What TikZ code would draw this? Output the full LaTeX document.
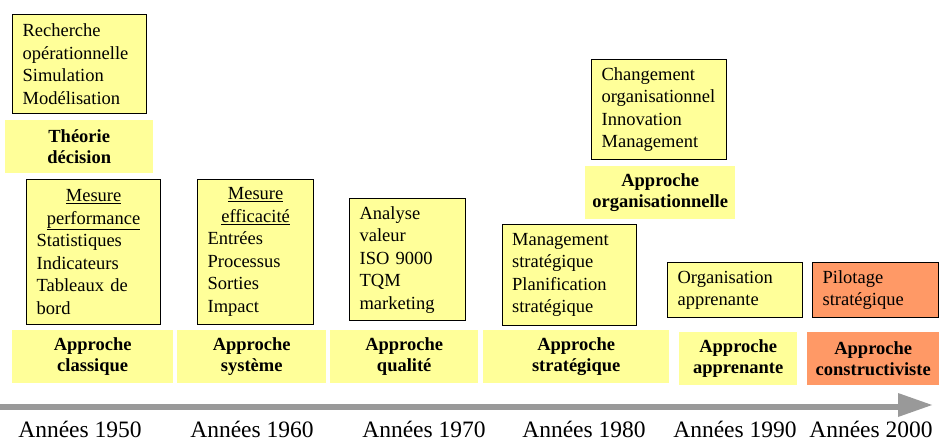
\documentclass[tikz,border=0pt]{standalone}
\usepackage{fontspec}
\setmainfont{Liberation Serif}[BoldFont={Liberation Serif Bold}]
\definecolor{boxyellow}{HTML}{FFFF99}
\definecolor{boxorange}{HTML}{FF9966}
\definecolor{arrowgray}{HTML}{999999}
\tikzset{
  txtbox/.style={draw=black, line width=1.2pt, fill=boxyellow, anchor=north west,
    inner xsep=10pt, inner ysep=0pt, align=left,
    font=\fontsize{18.5}{22.5}\selectfont},
  apbox/.style={fill=boxyellow, anchor=north west, inner sep=0pt, align=center,
    font=\fontsize{18.5}{21.5}\selectfont\bfseries},
  yearlbl/.style={anchor=base, inner sep=0pt, font=\fontsize{23.5}{26}\selectfont}
}
\newcommand{\ctrline}[1]{\makebox[\linewidth][c]{\underline{#1}}}
\begin{document}
\begin{tikzpicture}[x=1pt,y=-1pt]
\useasboundingbox (0,0) rectangle (939,441);

% top-left
\node[txtbox, minimum width=134pt, minimum height=99pt, text width=114pt] (rech) at (12,14)
  {Recherche\\op\'erationnelle\\Simulation\\Mod\'elisation};
\node[apbox, minimum width=148pt, minimum height=53pt] (theo) at (5,120)
  {Th\'eorie\\d\'ecision};

% 1950
\node[txtbox, minimum width=134pt, minimum height=145pt, text width=114pt] (mesp) at (26,179)
  {\ctrline{Mesure}\\\ctrline{performance}\\Statistiques\\Indicateurs\\Tableaux de\\bord};
\node[apbox, minimum width=161pt, minimum height=53pt] (clas) at (12,330)
  {Approche\\classique};

% 1960
\node[txtbox, minimum width=116pt, minimum height=145pt, text width=96pt] (mese) at (197,179)
  {\ctrline{Mesure}\\\ctrline{efficacit\'e}\\Entr\'ees\\Processus\\Sorties\\Impact};
\node[apbox, minimum width=149pt, minimum height=53pt] (syst) at (177,330)
  {Approche\\syst\`eme};

% 1970
\node[txtbox, minimum width=116pt, minimum height=122pt, text width=96pt] (anal) at (349,198)
  {Analyse\\valeur\\ISO 9000\\TQM\\marketing};
\node[apbox, minimum width=148pt, minimum height=53pt] (qual) at (330,330)
  {Approche\\qualit\'e};

% 1980
\node[txtbox, minimum width=134pt, minimum height=101pt, text width=115pt, inner xsep=9.5pt] (mgmt) at (502,224)
  {Management\\strat\'egique\\Planification\\strat\'egique};
\node[apbox, minimum width=186pt, minimum height=53pt] (strat) at (483,330)
  {Approche\\strat\'egique};

% organisationnelle
\node[txtbox, minimum width=135pt, minimum height=100pt, text width=115pt] (chg) at (591,59)
  {Changement\\organisationnel\\Innovation\\Management};
\node[apbox, minimum width=150pt, minimum height=53pt] (orga) at (585,166)
  {Approche\\organisationnelle};

% 1990
\node[txtbox, minimum width=135pt, minimum height=55pt, text width=115pt] (orgapp) at (667,262)
  {Organisation\\apprenante};
\node[apbox, minimum width=118pt, minimum height=53pt] (appr) at (679,332)
  {Approche\\apprenante};

% 2000
\node[txtbox, fill=boxorange, minimum width=126pt, minimum height=55pt, text width=106pt] (pilot) at (812,262)
  {Pilotage\\strat\'egique};
\node[apbox, fill=boxorange, minimum width=132pt, minimum height=53pt] (cons) at (807,332)
  {Approche\\constructiviste};

% timeline arrow
\coordinate (tstart) at (0,407);
\coordinate (tend) at (900,407);
\coordinate (ttip) at (932,405);
\draw[arrowgray, line width=6pt] (tstart) -- (tend);
\fill[arrowgray] (898,393) -- (ttip) -- (898,417) -- cycle;

% year labels
\node[yearlbl] (y50) at (80,437) {Ann\'ees 1950};
\node[yearlbl] (y60) at (252,437) {Ann\'ees 1960};
\node[yearlbl] (y70) at (424,437) {Ann\'ees 1970};
\node[yearlbl] (y80) at (584,437) {Ann\'ees 1980};
\node[yearlbl] (y90) at (735,437) {Ann\'ees 1990};
\node[yearlbl] (y00) at (871,437) {Ann\'ees 2000};
\end{tikzpicture}
\end{document}
